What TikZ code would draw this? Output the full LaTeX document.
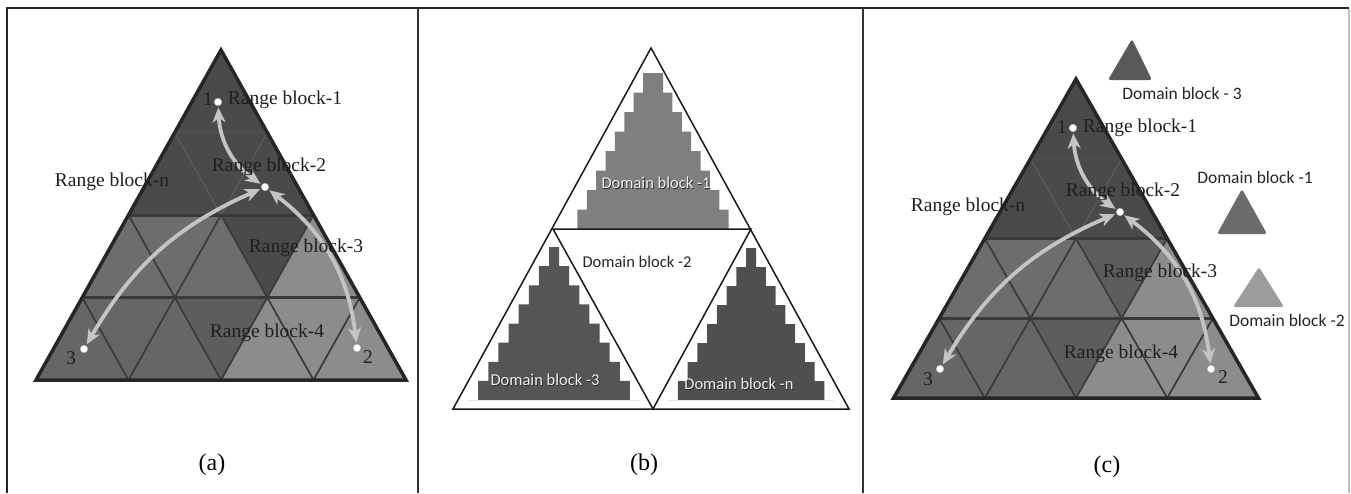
\documentclass[tikz,border=0pt]{standalone}
\usepackage{fontspec}
\setmainfont{Liberation Serif}
\newfontfamily\calib{Carlito}
\usetikzlibrary{arrows.meta}
\definecolor{dk}{HTML}{4A4A4A}
\definecolor{mA}{HTML}{6D6D6D}
\definecolor{mB}{HTML}{666666}
\definecolor{mC}{HTML}{5D5D5D}
\definecolor{lt}{HTML}{8C8C8C}
\definecolor{gridc}{HTML}{3A3A3A}
\definecolor{edgec}{HTML}{262626}
\definecolor{arrc}{HTML}{C4C4C4}
\definecolor{fracA}{HTML}{7F7F7F}
\definecolor{fracB}{HTML}{555555}
\definecolor{fracC}{HTML}{4F4F4F}
\newcommand\rangetri[1]{%
  \fill[dk] (0,0) -- (-2,2) -- (2,2) -- cycle;
  \fill[mA] (-2,2) -- (2,2) -- (3,3) -- (-3,3) -- cycle;
  \fill[#1] (0,2) -- (2,2) -- (1,3) -- cycle;
  \fill[lt] (2,2) -- (3,3) -- (1,3) -- cycle;
  \fill[mB] (-3,3) -- (3,3) -- (4,4) -- (-4,4) -- cycle;
  \fill[mC] (-1,3) -- (1,3) -- (0,4) -- cycle;
  \fill[lt] (1,3) -- (3,3) -- (4,4) -- (0,4) -- cycle;
  \draw[gridthin] (0,2) -- (1,1) (0,2) -- (-1,1);
  \draw[gridmid] (-2,4) -- (0,2) (0,4) -- (2,2) (2,4) -- (3,3)
                 (2,4) -- (0,2) (0,4) -- (-2,2) (-2,4) -- (-3,3);
  \draw[gridthick, line width=2.2pt, draw=gridc!90] (-1,1) -- (1,1);
  \draw[gridthick] (-2,2) -- (2,2) (-3,3) -- (3,3);
  \draw[outline] (0,0) -- (-4,4) -- (4,4) -- cycle;
}
\tikzset{
  frameline/.style={line width=2pt, draw=black!85},
  sepline/.style={line width=1.6pt, draw=black!80},
  gridthin/.style={line width=0.9pt, draw=gridc!80},
  gridmid/.style={line width=1.7pt, draw=gridc},
  gridthick/.style={line width=3pt, draw=gridc},
  outline/.style={line width=3.5pt, draw=edgec, line join=miter},
  rlabel/.style={font=\fontsize{19.5}{20}\selectfont, inner sep=0pt, text=black!88},
  dlabel/.style={font=\calib\fontsize{16.5}{17}\selectfont, inner sep=0pt, text=black!85},
  dlabelc/.style={font=\calib\fontsize{17.5}{18}\selectfont, inner sep=0pt, text=black!85},
  plabel/.style={font=\fontsize{24}{26}\selectfont, inner sep=0pt},
  dot/.style={circle, fill=white, draw=gray!50, line width=0.4pt, inner sep=0pt, minimum size=7.5pt},
  arr/.style={draw=arrc, line width=3.8pt,
    {Stealth[length=15pt,width=13pt,inset=4.5pt]}-{Stealth[length=15pt,width=13pt,inset=4.5pt]},
    shorten <=1.5pt, shorten >=1.5pt},
  blk/.style={line width=1.5pt, draw=black!90, line join=miter},
  dtri/.style={rounded corners=2.5pt},
}
\begin{document}
\begin{tikzpicture}[x=1pt,y=-1pt]
\useasboundingbox (0,0) rectangle (1351,493);
\fill[white] (0,0) rectangle (1351,493);

% ---------- frame ----------
\draw[frameline] (7,493) -- (7,8) -- (1349,8);
\draw[line width=1.5pt, draw=black!25] (1349,9) -- (1349,493);
\draw[sepline] (418,8) -- (418,493);
\draw[sepline] (863,8) -- (863,493);

% ---------- panel (a) ----------
\begin{scope}[shift={(221,50)}, x=46.25pt, y=-82.5pt]
  \rangetri{dk}
\end{scope}
\node[dot] (oa) at (218,102) {};
\node[dot] (ca) at (265,187) {};
\node[dot] (ta) at (357,348) {};
\node[dot] (ha) at (84,349) {};
\draw[arr] (ca) to[bend left=26] (oa);
\draw[arr] (ca) to[bend right=18] (ha);
\draw[arr] (ca) to[bend left=23] (ta);
\node[rlabel] (na1) at (208,99) {1};
\node[rlabel] (na2) at (368,357) {2};
\node[rlabel] (na3) at (71,358) {3};
\node[rlabel] (ra1) at (285,100) {Range block-1};
\node[rlabel] (ra2) at (269,167) {Range block-2};
\node[rlabel] (ran) at (112,182) {Range block-n};
\node[rlabel] (ra3) at (306,248) {Range block-3};
\node[rlabel] (ra4) at (267,333) {Range block-4};
\node[plabel] (pa) at (212,465) {(a)};

% ---------- panel (b) ----------
\fill[fracA] (643,73) \foreach \i in {1,...,8}{ -- ++(0,19.5) -- ++(-9.375,0) }
  -- (738,229) \foreach \i in {1,...,8}{ -- ++(-9.375,0) -- ++(0,-19.5) } -- cycle;
\fill[fracB] (549,247) \foreach \i in {1,...,8}{ -- ++(0,19.125) -- ++(-10.125,0) }
  -- (640,400) \foreach \i in {1,...,8}{ -- ++(-10.125,0) -- ++(0,-19.125) } -- cycle;
\fill[fracC] (746,248) \foreach \i in {1,...,8}{ -- ++(0,19) -- ++(-9.75,0) }
  -- (834,400) \foreach \i in {1,...,8}{ -- ++(-9.75,0) -- ++(0,-19) } -- cycle;
\draw[blk] (651,48) -- (453,409) -- (849,409) -- cycle;
\draw[blk] (553,229) -- (751,229) -- (653,409) -- cycle;
\node[dlabel, text=black!85] (db1s) at (656.8,183.8) {Domain block -1};
\node[dlabel, text=white!88!gray] (db1) at (656,183) {Domain block -1};
\node[dlabel] (db2) at (637,262) {Domain block -2};
\node[dlabel, text=black!85] (db3s) at (545.8,380.8) {Domain block -3};
\node[dlabel, text=white!88!gray] (db3) at (545,380) {Domain block -3};
\node[dlabel, text=black!85] (dbns) at (739.8,384.8) {Domain block -n};
\node[dlabel, text=white!88!gray] (dbn) at (739,384) {Domain block -n};
\node[plabel] (pb) at (644,465) {(b)};

% ---------- panel (c) ----------
\begin{scope}[shift={(1076,79)}, x=45.6pt, y=-79.75pt]
  \rangetri{mC}
\end{scope}
\node[dot] (oc) at (1073,128) {};
\node[dot] (cc) at (1120,212) {};
\node[dot] (tc) at (1211,369) {};
\node[dot] (hc) at (940,369) {};
\draw[arr] (cc) to[bend left=26] (oc);
\draw[arr] (cc) to[bend right=18] (hc);
\draw[arr] (cc) to[bend left=23] (tc);
\node[rlabel] (nc1) at (1062,127) {1};
\node[rlabel] (nc2) at (1223,377) {2};
\node[rlabel] (nc3) at (928,379) {3};
\node[rlabel] (rc1) at (1140,128) {Range block-1};
\node[rlabel] (rc2) at (1123,192) {Range block-2};
\node[rlabel] (rcn) at (968,207) {Range block-n};
\node[rlabel] (rc3) at (1160,273) {Range block-3};
\node[rlabel] (rc4) at (1121,354) {Range block-4};
\fill[dtri, fill=black!65] (1132,39) -- (1152,80) -- (1108,80) -- cycle;
\fill[dtri, fill=black!58] (1242,189) -- (1267,234) -- (1217,234) -- cycle;
\fill[dtri, fill=black!39] (1259,267) -- (1284,307) -- (1233,307) -- cycle;
\node[dlabelc] (dc3) at (1182,93) {Domain block - 3};
\node[dlabelc] (dc1) at (1255,177) {Domain block -1};
\node[dlabelc] (dc2) at (1287,320) {Domain block -2};
\node[plabel] (pc) at (1107,467) {(c)};
\end{tikzpicture}
\end{document}
